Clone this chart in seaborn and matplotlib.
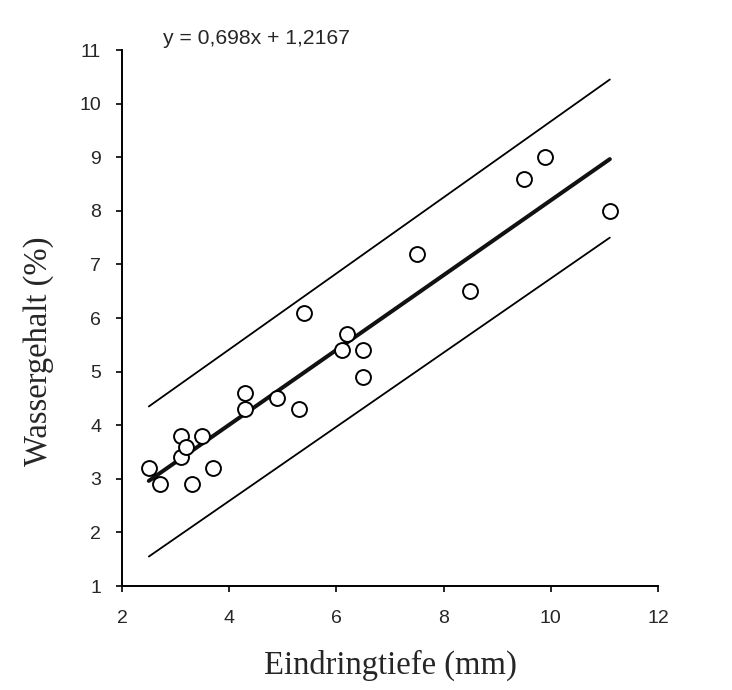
import numpy as np
import pandas as pd
import seaborn as sns
import matplotlib
matplotlib.use("Agg")
import matplotlib.pyplot as plt

# measured points (Eindringtiefe mm, Wassergehalt %)
depth = [2.5, 2.7, 3.1, 3.1, 3.2, 3.3, 3.5, 3.7, 4.3, 4.3, 4.9,
         5.3, 5.4, 6.1, 6.2, 6.5, 6.5, 7.5, 8.5, 9.5, 9.9, 11.1]
water = [3.2, 2.9, 3.8, 3.4, 3.6, 2.9, 3.8, 3.2, 4.6, 4.3, 4.5,
         4.3, 6.1, 5.4, 5.7, 5.4, 4.9, 7.2, 6.5, 8.6, 9.0, 8.0]

# regression line and band ends
slope, intercept = 0.698, 1.2167
line_x = [2.5, 11.1]
upper_y = [4.35, 10.45]
lower_y = [1.55, 7.50]

x_ticks = [2, 4, 6, 8, 10, 12]
y_ticks = list(range(1, 12))

df = pd.DataFrame({"x": depth, "y": water})
fit = pd.DataFrame({"x": line_x, "y": [slope * v + intercept for v in line_x]})
band_up = pd.DataFrame({"x": line_x, "y": upper_y})
band_lo = pd.DataFrame({"x": line_x, "y": lower_y})

sns.set_style("ticks")
plt.rcParams["font.family"] = ["Liberation Sans", "DejaVu Sans"]

fig = plt.figure(figsize=(7.32, 6.9), dpi=100)
ax = fig.add_axes([0.1667, 0.1507, 0.7323, 0.7768])

sns.lineplot(data=band_up, x="x", y="y", ax=ax, color="black", linewidth=1.3)
sns.lineplot(data=band_lo, x="x", y="y", ax=ax, color="black", linewidth=1.3)
sns.lineplot(data=fit, x="x", y="y", ax=ax, color="#111111", linewidth=2.9)
sns.scatterplot(data=df, x="x", y="y", ax=ax, s=115, facecolor="white",
                edgecolor="black", linewidth=1.4, zorder=5)

ax.set_xlim(2, 12)
ax.set_ylim(1, 11)
ax.set_xticks(x_ticks)
ax.set_yticks(y_ticks)
ax.tick_params(labelsize=14, length=4, width=1.2, color="black")
ax.tick_params(axis="x", pad=13)
ax.tick_params(axis="y", pad=11)
for s in ["left", "bottom"]:
    ax.spines[s].set_linewidth(1.4)
    ax.spines[s].set_color("black")
sns.despine(ax=ax)

ax.set_xlabel("Eindringtiefe (mm)", family="Liberation Serif", fontsize=23.5)
ax.set_ylabel("Wassergehalt (%)", family="Liberation Serif", fontsize=23.5)
ax.xaxis.set_label_coords(0.5, -0.118)
ax.yaxis.set_label_coords(-0.127, 0.438)

fig.text(163 / 732, 1 - 38 / 690, f"y = {str(slope).replace('.', ',')}x + {str(intercept).replace('.', ',')}",
         fontsize=15.2, va="center", ha="left")

fig.savefig("out.png", dpi=100)
